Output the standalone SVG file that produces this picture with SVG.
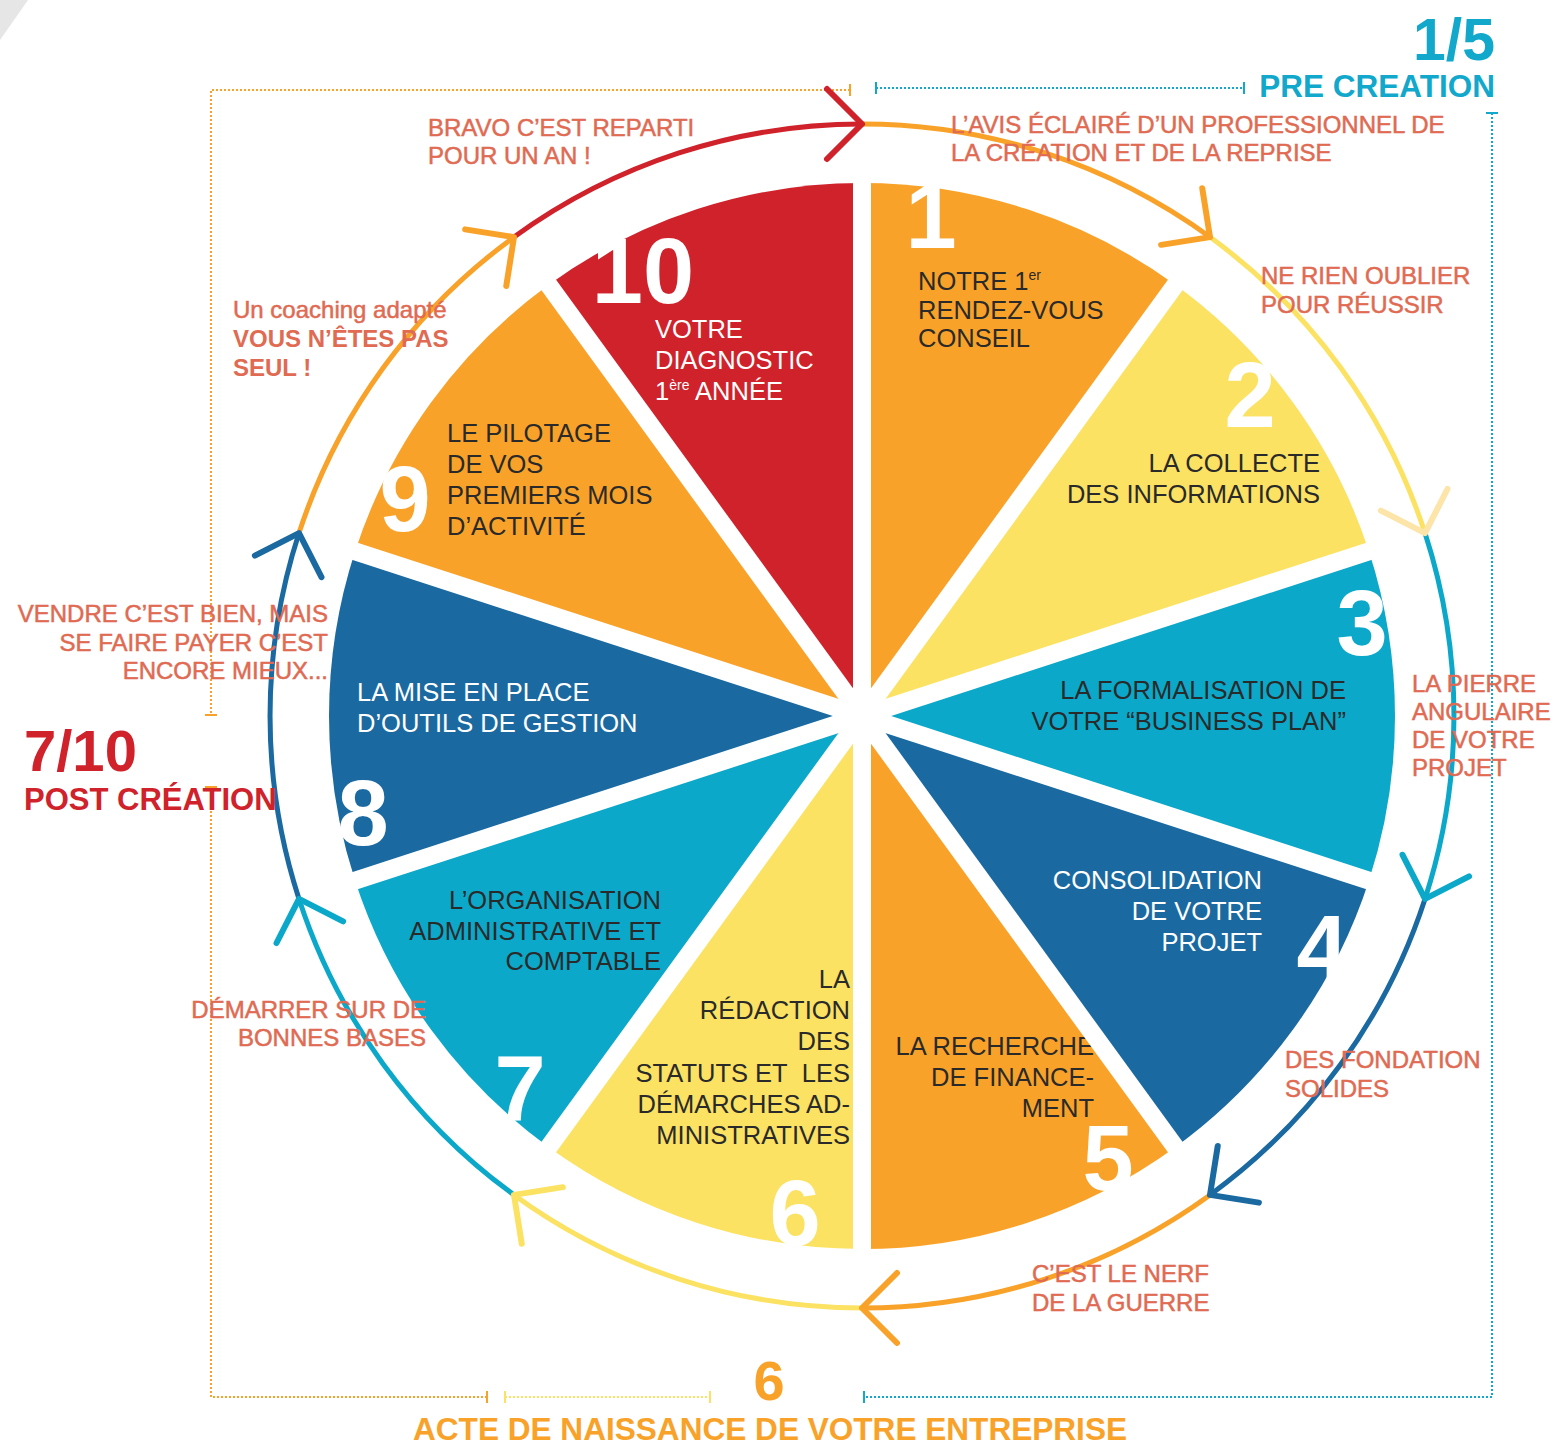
<svg xmlns="http://www.w3.org/2000/svg" xmlns:xlink="http://www.w3.org/1999/xlink" width="1554" height="1448" viewBox="0 0 1554 1448">
<style>
text { font-family: "Liberation Sans", Arial, sans-serif; }
.ann { font-size: 24px; fill: #e06a52; stroke: #e06a52; stroke-width: 0.5; }
.annb { font-weight: bold; stroke: none; }
.sec { font-size: 25.5px; fill: #2a2a2a; }
.secw { font-size: 25.5px; fill: #ffffff; }
.end { text-anchor: end; }
.num { font-size: 92px; font-weight: bold; fill: #ffffff; text-anchor: middle; }
.sup { font-size: 14px; }
.dot { fill: none; stroke-width: 2; stroke-dasharray: 2 2; }
.tick { fill: none; stroke-width: 2; }
.arc { fill: none; stroke-width: 5; }
.chev { fill: none; stroke-width: 6; stroke-linecap: round; stroke-linejoin: round; }
.sep { stroke: #ffffff; stroke-width: 18; }
</style>
<defs>
<path id="chevron" d="M -35 -35 L 0 0 L -35 35"/>
</defs>
<rect width="1554" height="1448" fill="#ffffff"/>
<polygon points="0,0 28,0 0,40" fill="#e6e6e6"/>

<g id="brackets">
<path class="dot" stroke="#f9a229" d="M 850 90 H 211 V 715"/>
<path class="tick" stroke="#f9a229" d="M 850 84 V 96 M 205 715 H 217"/>
<path class="dot" stroke="#f9a229" d="M 211 787 V 1397 H 487"/>
<path class="tick" stroke="#f9a229" d="M 205 787 H 217 M 487 1391 V 1403"/>
<path class="dot" stroke="#fce262" d="M 505 1397 H 710"/>
<path class="tick" stroke="#fce262" d="M 505 1391 V 1403 M 710 1391 V 1403"/>
<path class="dot" stroke="#12a8cb" d="M 876 88 H 1244"/>
<path class="tick" stroke="#12a8cb" d="M 876 82 V 94 M 1244 82 V 94"/>
<path class="dot" stroke="#12a8cb" d="M 1492 113 V 1397 H 864"/>
<path class="tick" stroke="#12a8cb" d="M 1486 113 H 1498 M 864 1391 V 1403"/>
</g>

<g id="sector-1">
<path d="M 862 716 L 862 183 A 533 533 0 0 1 1175.3 284.8 Z" fill="#f9a229"/>
<text class="num" x="931" y="248">1</text>
<text class="sec" x="918" y="290">NOTRE 1<tspan class="sup" dy="-10">er</tspan></text>
<text class="sec" x="918" y="319">RENDEZ-VOUS</text>
<text class="sec" x="918" y="347">CONSEIL</text>
</g>
<g id="sector-2">
<path d="M 862 716 L 1175.3 284.8 A 533 533 0 0 1 1368.9 551.3 Z" fill="#fce262"/>
<text class="num" x="1250" y="427">2</text>
<text class="sec end" x="1320" y="472">LA COLLECTE</text>
<text class="sec end" x="1320" y="503">DES INFORMATIONS</text>
</g>
<g id="sector-3">
<path d="M 862 716 L 1368.9 551.3 A 533 533 0 0 1 1368.9 880.7 Z" fill="#0ba8c9"/>
<text class="num" x="1362" y="655">3</text>
<text class="sec end" x="1346" y="699">LA FORMALISATION DE</text>
<text class="sec end" x="1346" y="730">VOTRE “BUSINESS PLAN”</text>
</g>
<g id="sector-4">
<path d="M 862 716 L 1368.9 880.7 A 533 533 0 0 1 1175.3 1147.2 Z" fill="#1a69a0"/>
<text class="num" x="1322" y="980">4</text>
<text class="secw end" x="1262" y="889">CONSOLIDATION</text>
<text class="secw end" x="1262" y="920">DE VOTRE</text>
<text class="secw end" x="1262" y="951">PROJET</text>
</g>
<g id="sector-5">
<path d="M 862 716 L 1175.3 1147.2 A 533 533 0 0 1 862 1249 Z" fill="#f9a229"/>
<text class="num" x="1108" y="1190">5</text>
<text class="sec end" x="1094" y="1055">LA RECHERCHE</text>
<text class="sec end" x="1094" y="1086">DE FINANCE-</text>
<text class="sec end" x="1094" y="1117">MENT</text>
</g>
<g id="sector-6">
<path d="M 862 716 L 862 1249 A 533 533 0 0 1 548.7 1147.2 Z" fill="#fce262"/>
<text class="num" x="795" y="1245">6</text>
<text class="sec end" x="850" y="988">LA</text>
<text class="sec end" x="850" y="1019">RÉDACTION</text>
<text class="sec end" x="850" y="1050">DES</text>
<text class="sec end" x="850" y="1082">STATUTS ET&#160; LES</text>
<text class="sec end" x="850" y="1113">DÉMARCHES AD-</text>
<text class="sec end" x="850" y="1144">MINISTRATIVES</text>
</g>
<g id="sector-7">
<path d="M 862 716 L 548.7 1147.2 A 533 533 0 0 1 355.1 880.7 Z" fill="#0ba8c9"/>
<text class="num" x="520" y="1120">7</text>
<text class="sec end" x="661" y="909">L’ORGANISATION</text>
<text class="sec end" x="661" y="940">ADMINISTRATIVE ET</text>
<text class="sec end" x="661" y="970">COMPTABLE</text>
</g>
<g id="sector-8">
<path d="M 862 716 L 355.1 880.7 A 533 533 0 0 1 355.1 551.3 Z" fill="#1a69a0"/>
<text class="num" x="363" y="845">8</text>
<text class="secw" x="357" y="701">LA MISE EN PLACE</text>
<text class="secw" x="357" y="732">D’OUTILS DE GESTION</text>
</g>
<g id="sector-9">
<path d="M 862 716 L 355.1 551.3 A 533 533 0 0 1 548.7 284.8 Z" fill="#f9a229"/>
<text class="num" x="405" y="531">9</text>
<text class="sec" x="447" y="442">LE PILOTAGE</text>
<text class="sec" x="447" y="473">DE VOS</text>
<text class="sec" x="447" y="504">PREMIERS MOIS</text>
<text class="sec" x="447" y="535">D’ACTIVITÉ</text>
</g>
<g id="sector-10">
<path d="M 862 716 L 548.7 284.8 A 533 533 0 0 1 862 183 Z" fill="#d0222b"/>
<text class="num" x="643" y="303" font-size="90">10</text>
<text class="secw" x="655" y="338">VOTRE</text>
<text class="secw" x="655" y="369">DIAGNOSTIC</text>
<text class="secw" x="655" y="400">1<tspan class="sup" dy="-10">ère</tspan><tspan dy="10"> ANNÉE</tspan></text>
</g>

<g id="separators">
<line class="sep" x1="862" y1="156" x2="862" y2="1276"/>
<line class="sep" x1="1191.2" y1="263" x2="532.8" y2="1169"/>
<line class="sep" x1="1394.6" y1="543" x2="329.4" y2="889"/>
<line class="sep" x1="1394.6" y1="889" x2="329.4" y2="543"/>
<line class="sep" x1="1191.2" y1="1169" x2="532.8" y2="263"/>
</g>

<g id="connectors">
<path class="arc" stroke="#f9a229" d="M 862 124 A 592 592 0 0 1 1210 237.1"/>
<path class="arc" stroke="#fce262" d="M 1210 237.1 A 592 592 0 0 1 1425 533.1"/>
<path class="arc" stroke="#0ba8c9" d="M 1425 533.1 A 592 592 0 0 1 1425 898.9"/>
<path class="arc" stroke="#1a69a0" d="M 1425 898.9 A 592 592 0 0 1 1210 1194.9"/>
<path class="arc" stroke="#f9a229" d="M 1210 1194.9 A 592 592 0 0 1 862 1308"/>
<path class="arc" stroke="#fce262" d="M 862 1308 A 592 592 0 0 1 514 1194.9"/>
<path class="arc" stroke="#0ba8c9" d="M 514 1194.9 A 592 592 0 0 1 299 898.9"/>
<path class="arc" stroke="#1a69a0" d="M 299 898.9 A 592 592 0 0 1 299 533.1"/>
<path class="arc" stroke="#f9a229" d="M 299 533.1 A 592 592 0 0 1 514 237.1"/>
<path class="arc" stroke="#d0222b" d="M 514 237.1 A 592 592 0 0 1 862 124"/>
<use href="#chevron" class="chev" stroke="#d0222b" transform="translate(862 124) rotate(0)"/>
<use href="#chevron" class="chev" stroke="#f9a229" transform="translate(1210 237.1) rotate(36)"/>
<use href="#chevron" class="chev" stroke="#fde4a8" transform="translate(1425 533.1) rotate(72)"/>
<use href="#chevron" class="chev" stroke="#0ba8c9" transform="translate(1425 898.9) rotate(108)"/>
<use href="#chevron" class="chev" stroke="#1a69a0" transform="translate(1210 1194.9) rotate(144)"/>
<use href="#chevron" class="chev" stroke="#f9a229" transform="translate(862 1308) rotate(180)"/>
<use href="#chevron" class="chev" stroke="#fce262" transform="translate(514 1194.9) rotate(216)"/>
<use href="#chevron" class="chev" stroke="#0ba8c9" transform="translate(299 898.9) rotate(252)"/>
<use href="#chevron" class="chev" stroke="#1a69a0" transform="translate(299 533.1) rotate(288)"/>
<use href="#chevron" class="chev" stroke="#f9a229" transform="translate(514 237.1) rotate(324)"/>
</g>

<g id="annotations">
<text class="ann" x="428" y="136">BRAVO C’EST REPARTI</text>
<text class="ann" x="428" y="164">POUR UN AN !</text>
<text class="ann" x="951" y="133">L’AVIS ÉCLAIRÉ D’UN PROFESSIONNEL DE</text>
<text class="ann" x="951" y="161">LA CRÉATION ET DE LA REPRISE</text>
<text class="ann" x="1261" y="284">NE RIEN OUBLIER</text>
<text class="ann" x="1261" y="313">POUR RÉUSSIR</text>
<text class="ann" x="233" y="318">Un coaching adapté</text>
<text class="ann annb" x="233" y="347">VOUS N’ÊTES PAS</text>
<text class="ann annb" x="233" y="376">SEUL !</text>
<text class="ann end" x="328" y="622">VENDRE C’EST BIEN, MAIS</text>
<text class="ann end" x="328" y="651">SE FAIRE PAYER C’EST</text>
<text class="ann end" x="328" y="679">ENCORE MIEUX...</text>
<text class="ann" x="1412" y="692">LA PIERRE</text>
<text class="ann" x="1412" y="720">ANGULAIRE</text>
<text class="ann" x="1412" y="748">DE VOTRE</text>
<text class="ann" x="1412" y="776">PROJET</text>
<text class="ann end" x="426" y="1018">DÉMARRER SUR DE</text>
<text class="ann end" x="426" y="1046">BONNES BASES</text>
<text class="ann" x="1285" y="1068">DES FONDATION</text>
<text class="ann" x="1285" y="1097">SOLIDES</text>
<text class="ann" x="1032" y="1282">C’EST LE NERF</text>
<text class="ann" x="1032" y="1311">DE LA GUERRE</text>
</g>

<g id="phase-pre">
<text x="1495" y="60" text-anchor="end" font-size="59" font-weight="bold" fill="#12a8cb">1/5</text>
<text x="1495" y="97" text-anchor="end" font-size="31.5" font-weight="bold" fill="#12a8cb">PRE CREATION</text>
</g>
<g id="phase-post">
<text x="24" y="771" font-size="58" font-weight="bold" fill="#d0222b">7/10</text>
<text x="24" y="810" font-size="31" font-weight="bold" fill="#d0222b">POST CRÉATION</text>
</g>
<g id="phase-acte">
<text x="769" y="1400" text-anchor="middle" font-size="56" font-weight="bold" fill="#f9a229">6</text>
<text x="770" y="1440" text-anchor="middle" font-size="32" font-weight="bold" fill="#f9a229" textLength="714" lengthAdjust="spacingAndGlyphs">ACTE DE NAISSANCE DE VOTRE ENTREPRISE</text>
</g>
</svg>
